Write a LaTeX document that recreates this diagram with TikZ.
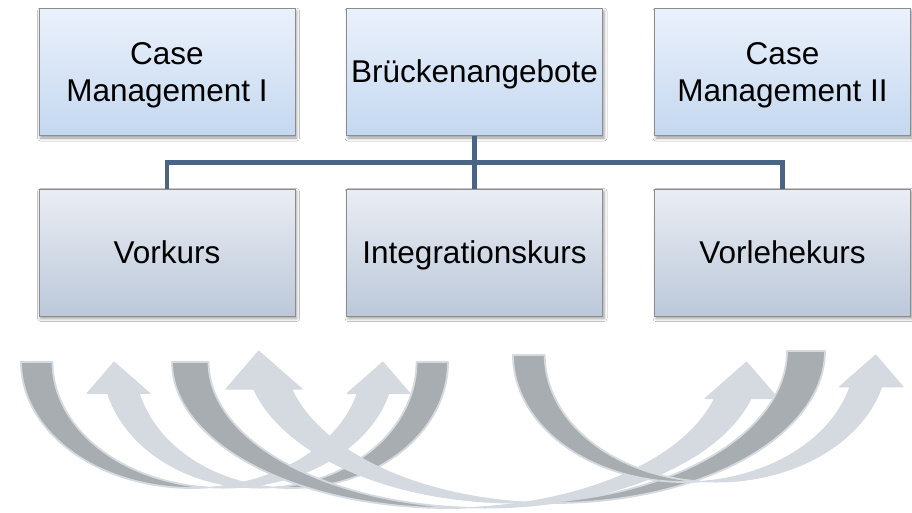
\documentclass[tikz,border=0pt]{standalone}
\usepackage{fontspec}
\setmainfont{Liberation Sans}
\usetikzlibrary{calc,shadows.blur}
\definecolor{boxline}{HTML}{8C8C8C}
\definecolor{topA}{HTML}{EBF1FB}
\definecolor{topB}{HTML}{C4D8F0}
\definecolor{botA}{HTML}{EAEDF3}
\definecolor{botB}{HTML}{BCC8DA}
\definecolor{conn}{HTML}{4A6583}
\definecolor{arrlight}{HTML}{D5DAE0}
\definecolor{arrdark}{HTML}{A8ADB1}
\newcommand\bxstrut{\rule[-7pt]{0pt}{35.6pt}}
\tikzset{
  boxbase/.style={rectangle, draw=boxline, line width=0.9pt, minimum width=256pt, minimum height=127pt,
    inner sep=1pt, align=center, font=\fontsize{31.5}{34}\selectfont,
    blur shadow={shadow xshift=1.5pt, shadow yshift=-2.5pt, shadow blur radius=3pt, shadow opacity=40}},
  topbox/.style={boxbase, top color=topA, bottom color=topB},
  botbox/.style={boxbase, top color=botA, bottom color=botB},
  connline/.style={draw=conn, line width=4.5pt},
  darkband/.style={fill=arrdark, draw=arrlight, line width=1.8pt, line join=round},
  lightband/.style={fill=arrlight, draw=arrlight, line width=1pt, line join=round}
}
% curved up arrow: #1 left, #2 top, #3 height, #4 width
\newcommand\cuarrow[4]{%
  \pgfmathsetmacro\cuL{#1}%
  \pgfmathsetmacro\cuT{#2}%
  \pgfmathsetmacro\cuH{#3}%
  \pgfmathsetmacro\cuW{#4}%
  \pgfmathsetmacro\cuTh{\cuH/4}%
  \pgfmathsetmacro\cuAw{\cuH/2}%
  \pgfmathsetmacro\cuAh{\cuH/4}%
  \pgfmathsetmacro\cuR{\cuW/2-(\cuTh+\cuAw)/4}%
  \pgfmathsetmacro\cuCa{\cuL+\cuR}%
  \pgfmathsetmacro\cuCb{\cuL+\cuR+\cuTh}%
  \pgfmathsetmacro\cuTa{acos(\cuTh/(2*\cuR))}%
  \pgfmathsetmacro\cuTb{180-\cuTa}%
  \pgfmathsetmacro\cuAa{asin(0.25)}%
  \filldraw[darkband] plot[domain=180:\cuTa, samples=60] ({\cuCa+\cuR*cos(\x)},{\cuT+\cuH*sin(\x)})
     -- plot[domain=\cuTb:180, samples=60] ({\cuCb+\cuR*cos(\x)},{\cuT+\cuH*sin(\x)}) -- cycle;
  \filldraw[lightband] plot[domain=\cuTb:\cuAa, samples=60] ({\cuCb+\cuR*cos(\x)},{\cuT+\cuH*sin(\x)})
     -- ({\cuL+\cuW},{\cuT+\cuAh}) -- ({\cuL+\cuW-\cuAw/2+0.07*\cuAw},\cuT) -- ({\cuL+\cuW-\cuAw},{\cuT+\cuAh})
     -- plot[domain=\cuAa:\cuTa, samples=60] ({\cuCa+\cuR*cos(\x)},{\cuT+\cuH*sin(\x)}) -- cycle;
}
\begin{document}
\begin{tikzpicture}[x=1pt,y=-1pt]
\useasboundingbox (0,0) rectangle (912,512);
\fill[white] (0,0) rectangle (912,512);
% boxes
\node[topbox] (cm1) at (167,72) {Case\bxstrut\\Management I\bxstrut};
\node[topbox] (bru) at (474.5,72) {Brückenangebote\bxstrut};
\node[topbox] (cm2) at (782.5,72) {Case\bxstrut\\Management II\bxstrut};
\node[botbox] (vork) at (167,252.5) {Vorkurs\bxstrut};
\node[botbox] (integ) at (474.5,252.5) {Integrationskurs\bxstrut};
\node[botbox] (vorl) at (782.5,252.5) {Vorlehekurs\bxstrut};
% connectors
\coordinate (mid) at ($(bru.south)!0.5!(integ.north)$);
\draw[connline] (bru.south) -- (integ.north);
\draw[connline] (vork.north) |- (mid) -| (vorl.north);
% curved arrows
\cuarrow{21}{362}{126}{389}
\begin{scope}[xshift=535pt, xscale=-1]
\cuarrow{87}{362}{126}{361}
\end{scope}
\cuarrow{172}{362}{146}{606}
\begin{scope}[xshift=1051pt, xscale=-1]
\cuarrow{226}{351}{152}{599}
\end{scope}
\cuarrow{513}{355}{127}{390}
\end{tikzpicture}
\end{document}
